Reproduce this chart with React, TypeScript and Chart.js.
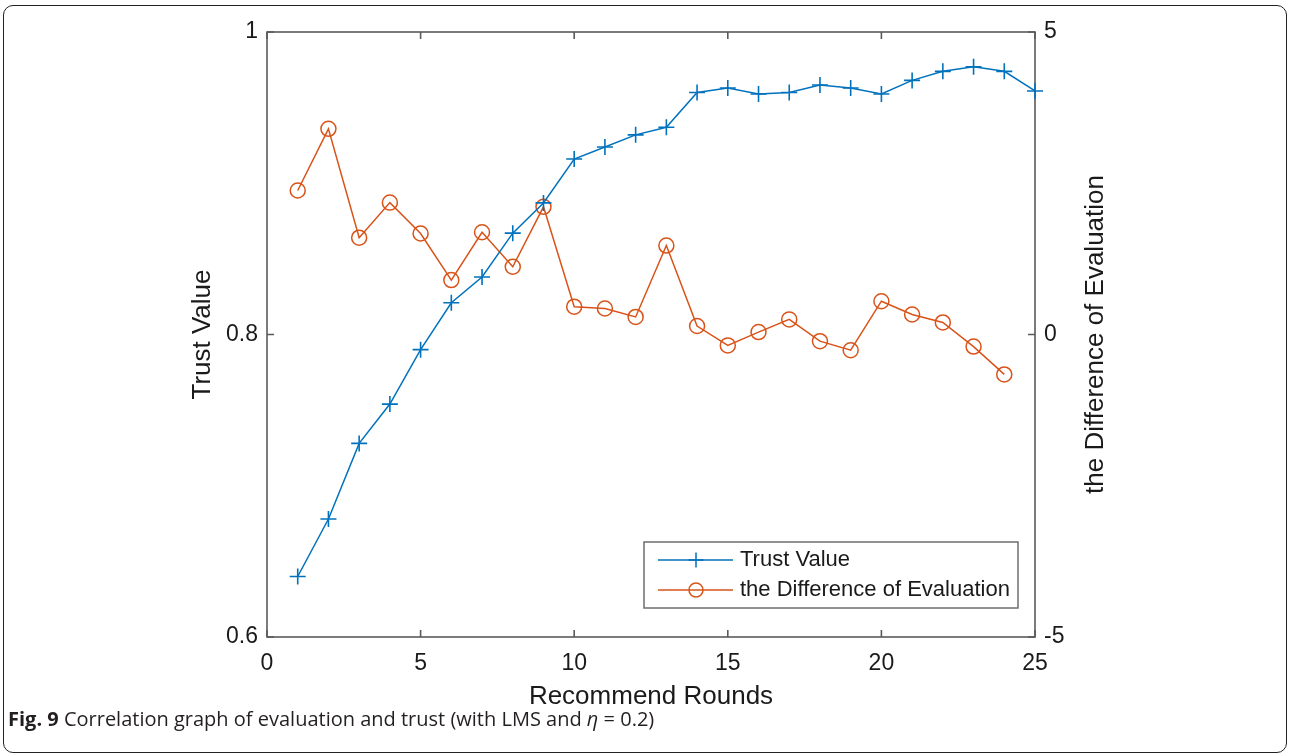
import React, { useEffect, useRef } from "react";
import { Chart, registerables } from "chart.js";

Chart.register(...registerables);

const rounds = [1, 2, 3, 4, 5, 6, 7, 8, 9, 10, 11, 12, 13, 14, 15, 16, 17, 18, 19, 20, 21, 22, 23, 24, 25];
const trustValue = [0.640, 0.678, 0.728, 0.754, 0.790, 0.821, 0.838, 0.867, 0.887, 0.916, 0.924, 0.932, 0.937, 0.960, 0.963, 0.959, 0.960, 0.965, 0.963, 0.959, 0.968, 0.974, 0.977, 0.974, 0.961];
const diffRounds = [1, 2, 3, 4, 5, 6, 7, 8, 9, 10, 11, 12, 13, 14, 15, 16, 17, 18, 19, 20, 21, 22, 23, 24];
const diffEvaluation = [2.38, 3.40, 1.60, 2.18, 1.67, 0.90, 1.69, 1.12, 2.11, 0.46, 0.43, 0.29, 1.47, 0.14, -0.18, 0.04, 0.25, -0.11, -0.26, 0.55, 0.33, 0.20, -0.20, -0.66];

const xTicks = [0, 5, 10, 15, 20, 25];
const yTicks = [0.6, 0.8, 1];
const y2Ticks = [-5, 0, 5];

const seriesNames = ["Trust Value", "the Difference of Evaluation"];
const axisTitles = { x: "Recommend Rounds", y: "Trust Value", y2: "the Difference of Evaluation" };

const BLUE = "#0072BD";
const ORANGE = "#D95319";
const AXIS = "#5a5a5a";
const TEXT = "#1a1a1a";
const FONT = "'Liberation Sans', Arial, Helvetica, sans-serif";

const decorPlugin = {
  id: "decor",
  beforeDatasetsDraw(chart: any) {
    const { ctx, chartArea: a, scales } = chart;
    ctx.save();
    ctx.strokeStyle = AXIS;
    ctx.lineWidth = 1.6;
    ctx.strokeRect(a.left, a.top, a.right - a.left, a.bottom - a.top);
    const tl = 7;
    ctx.beginPath();
    xTicks.forEach((v) => {
      const px = scales.x.getPixelForValue(v);
      ctx.moveTo(px, a.bottom);
      ctx.lineTo(px, a.bottom - tl);
      ctx.moveTo(px, a.top);
      ctx.lineTo(px, a.top + tl);
    });
    yTicks.forEach((v) => {
      const py = scales.y.getPixelForValue(v);
      ctx.moveTo(a.left, py);
      ctx.lineTo(a.left + tl, py);
    });
    y2Ticks.forEach((v) => {
      const py = scales.y2.getPixelForValue(v);
      ctx.moveTo(a.right, py);
      ctx.lineTo(a.right - tl, py);
    });
    ctx.stroke();
    ctx.restore();
  },
  afterDraw(chart: any) {
    const { ctx, chartArea: a } = chart;
    ctx.save();
    // right axis title (reads bottom to top)
    ctx.fillStyle = TEXT;
    ctx.font = `26px ${FONT}`;
    ctx.textAlign = "center";
    ctx.textBaseline = "middle";
    ctx.translate(1096, (a.top + a.bottom) / 2);
    ctx.rotate(-Math.PI / 2);
    ctx.fillText(axisTitles.y2, 0, 0);
    ctx.restore();

    // legend
    ctx.save();
    const lx = 644, ly = 542, lw = 374, lh = 66;
    ctx.fillStyle = "#ffffff";
    ctx.fillRect(lx, ly, lw, lh);
    ctx.strokeStyle = "#6e6e6e";
    ctx.lineWidth = 1.5;
    ctx.strokeRect(lx, ly, lw, lh);
    const rows = [
      { y: 560, color: BLUE, marker: "cross", label: seriesNames[0] },
      { y: 590, color: ORANGE, marker: "circle", label: seriesNames[1] },
    ];
    rows.forEach((r) => {
      ctx.strokeStyle = r.color;
      ctx.lineWidth = 1.5;
      ctx.beginPath();
      ctx.moveTo(658, r.y);
      ctx.lineTo(733, r.y);
      ctx.stroke();
      ctx.beginPath();
      if (r.marker === "cross") {
        ctx.moveTo(696 - 7.5, r.y);
        ctx.lineTo(696 + 7.5, r.y);
        ctx.moveTo(696, r.y - 7.5);
        ctx.lineTo(696, r.y + 7.5);
      } else {
        ctx.arc(696, r.y, 7, 0, Math.PI * 2);
      }
      ctx.stroke();
      ctx.fillStyle = TEXT;
      ctx.font = `22px ${FONT}`;
      ctx.textAlign = "left";
      ctx.textBaseline = "middle";
      ctx.fillText(r.label, 740, r.y);
    });
    ctx.restore();
  },
};

export default function App() {
  const canvasRef = useRef<HTMLCanvasElement | null>(null);

  useEffect(() => {
    if (!canvasRef.current) return;
    const chart = new Chart(canvasRef.current, {
      type: "line",
      data: {
        datasets: [
          {
            label: seriesNames[0],
            data: rounds.map((r, i) => ({ x: r, y: trustValue[i] })),
            yAxisID: "y",
            borderColor: BLUE,
            backgroundColor: BLUE,
            borderWidth: 1.5,
            pointStyle: "cross",
            pointRadius: 8,
            pointBorderWidth: 1.6,
            pointBorderColor: BLUE,
            tension: 0,
            clip: false as any,
          },
          {
            label: seriesNames[1],
            data: diffRounds.map((r, i) => ({ x: r, y: diffEvaluation[i] })),
            yAxisID: "y2",
            borderColor: ORANGE,
            backgroundColor: "rgba(0,0,0,0)",
            borderWidth: 1.5,
            pointStyle: "circle",
            pointRadius: 7.5,
            pointBorderWidth: 1.5,
            pointBorderColor: ORANGE,
            pointBackgroundColor: "rgba(0,0,0,0)",
            tension: 0,
            clip: false as any,
          },
        ],
      },
      options: {
        responsive: false,
        animation: false,
        events: [],
        layout: { padding: { left: 0, right: 0, top: 32, bottom: 0 } },
        plugins: { legend: { display: false }, tooltip: { enabled: false } },
        scales: {
          x: {
            type: "linear",
            min: 0,
            max: 25,
            grid: { display: false, drawTicks: false },
            border: { display: false },
            afterBuildTicks: (s: any) => {
              s.ticks = xTicks.map((v) => ({ value: v }));
            },
            afterFit: (s: any) => {
              s.height = 119;
            },
            ticks: {
              autoSkip: false,
              maxRotation: 0,
              padding: 13,
              color: TEXT,
              font: { family: FONT, size: 23 },
              callback: (v: any) => String(v),
            },
            title: {
              display: true,
              text: axisTitles.x,
              color: TEXT,
              font: { family: FONT, size: 26 },
              padding: { top: 0, bottom: 44 },
            },
          },
          y: {
            type: "linear",
            position: "left",
            min: 0.6,
            max: 1,
            grid: { display: false, drawTicks: false },
            border: { display: false },
            afterBuildTicks: (s: any) => {
              s.ticks = yTicks.map((v) => ({ value: v }));
            },
            afterFit: (s: any) => {
              s.width = 267;
            },
            ticks: {
              autoSkip: false,
              padding: 9,
              color: TEXT,
              font: { family: FONT, size: 23 },
              callback: (v: any) => String(v),
            },
            title: {
              display: true,
              text: axisTitles.y,
              color: TEXT,
              font: { family: FONT, size: 26 },
              padding: { top: 187, bottom: 0 },
            },
          },
          y2: {
            type: "linear",
            position: "right",
            min: -5,
            max: 5,
            grid: { display: false, drawTicks: false },
            border: { display: false },
            afterBuildTicks: (s: any) => {
              s.ticks = y2Ticks.map((v) => ({ value: v }));
            },
            afterFit: (s: any) => {
              s.width = 255;
            },
            ticks: {
              autoSkip: false,
              padding: 9,
              color: TEXT,
              font: { family: FONT, size: 23 },
              callback: (v: any) => String(v),
            },
          },
        },
      },
      plugins: [decorPlugin],
    } as any);
    return () => chart.destroy();
  }, []);

  return (
    <div style={{ position: "fixed", left: 0, top: 0, width: 1290, height: 756, background: "#fff" }}>
      <canvas ref={canvasRef} width={1290} height={756} style={{ position: "absolute", left: 0, top: 0, width: 1290, height: 756 }} />
      <div
        style={{
          position: "absolute",
          left: 3,
          top: 5,
          width: 1282,
          height: 746,
          border: "1.6px solid #222",
          borderRadius: 10,
          pointerEvents: "none",
        }}
      />
      <div
        style={{
          position: "absolute",
          left: 8,
          top: 706,
          fontFamily: "'Open Sans', 'Noto Sans', sans-serif",
          fontSize: 20,
          color: "#231f20",
          whiteSpace: "nowrap",
          lineHeight: "26px",
        }}
      >
        <b>Fig. 9</b> Correlation graph of evaluation and trust (with LMS and <i>η</i> = 0.2)
      </div>
    </div>
  );
}
